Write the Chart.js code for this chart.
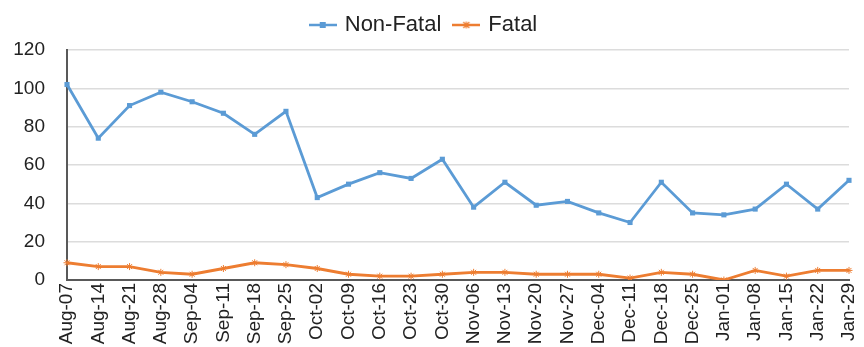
<!DOCTYPE html>
<html>
<head>
<meta charset="utf-8">
<script src="https://cdn.jsdelivr.net/npm/chart.js@4/dist/chart.umd.min.js"></script>
<style>
  html, body { margin: 0; padding: 0; background: #ffffff; }
  #wrap { width: 864px; height: 347px; }
</style>
</head>
<body>
<div id="wrap"><canvas id="chart" width="864" height="347"></canvas></div>
<script>
// Weekly counts
const weeks = ["Aug-07","Aug-14","Aug-21","Aug-28","Sep-04","Sep-11","Sep-18","Sep-25",
  "Oct-02","Oct-09","Oct-16","Oct-23","Oct-30","Nov-06","Nov-13","Nov-20","Nov-27",
  "Dec-04","Dec-11","Dec-18","Dec-25","Jan-01","Jan-08","Jan-15","Jan-22","Jan-29"];
const nonFatal = [102,74,91,98,93,87,76,88,43,50,56,53,63,38,51,39,41,35,30,51,35,34,37,50,37,52];
const fatal    = [9,7,7,4,3,6,9,8,6,3,2,2,3,4,4,3,3,3,1,4,3,0,5,2,5,5];
const yTicks   = [0,20,40,60,80,100,120];

const BLUE = '#5B9BD5';
const ORANGE = '#ED7D31';
const FONT = 'Liberation Sans, Arial, sans-serif';

// Legend swatch: short line with the series marker in the middle
function swatch(color, kind) {
  const c = document.createElement('canvas');
  c.width = 28; c.height = 10;
  const g = c.getContext('2d');
  g.strokeStyle = color; g.fillStyle = color; g.lineWidth = 2.5;
  g.beginPath(); g.moveTo(0, 5); g.lineTo(28, 5); g.stroke();
  if (kind === 'square') {
    g.fillRect(11, 2, 6, 6);
  } else {
    g.lineWidth = 1.2;
    g.beginPath();
    g.moveTo(11, 2); g.lineTo(17, 8);
    g.moveTo(17, 2); g.lineTo(11, 8);
    g.moveTo(14, 1.5); g.lineTo(14, 8.5);
    g.stroke();
  }
  return c;
}

// Extra space below the legend row
const legendGap = {
  id: 'legendGap',
  beforeInit(chart) {
    const fit = chart.legend.fit;
    chart.legend.fit = function () {
      fit.call(this);
      this.height += 4;
    };
  }
};

new Chart(document.getElementById('chart'), {
  type: 'line',
  data: {
    labels: weeks,
    datasets: [
      {
        label: 'Non-Fatal',
        data: nonFatal,
        borderColor: BLUE,
        backgroundColor: BLUE,
        borderWidth: 2.8,
        pointStyle: 'rect',
        pointRadius: 3.6,
        pointBorderWidth: 0,
        tension: 0
      },
      {
        label: 'Fatal',
        data: fatal,
        borderColor: ORANGE,
        backgroundColor: ORANGE,
        borderWidth: 2.8,
        pointStyle: 'star',
        pointRadius: 3.5,
        pointBorderWidth: 1,
        tension: 0
      }
    ]
  },
  options: {
    responsive: false,
    animation: false,
    layout: { padding: { left: 0, right: 15, top: 0, bottom: 0 } },
    plugins: {
      tooltip: { enabled: false },
      legend: {
        position: 'top',
        labels: {
          color: '#222222',
          font: { family: FONT, size: 22 },
          usePointStyle: true,
          padding: 14,
          generateLabels: (chart) => chart.data.datasets.map((ds, i) => ({
            text: ds.label,
            fillStyle: ds.borderColor,
            strokeStyle: ds.borderColor,
            fontColor: '#222222',
            lineWidth: 0,
            pointStyle: swatch(ds.borderColor, i === 0 ? 'square' : 'star'),
            datasetIndex: i,
            hidden: false
          }))
        }
      }
    },
    scales: {
      x: {
        offset: false,
        grid: { display: false, drawTicks: false },
        border: { display: true, color: '#595959', width: 2 },
        afterFit: (axis) => {
          axis.height = 67;
          axis.paddingLeft = 0;
          axis.paddingRight = 0;
        },
        ticks: {
          autoSkip: false,
          minRotation: 90,
          maxRotation: 90,
          padding: 3,
          color: '#222222',
          font: { family: FONT, size: 19 }
        }
      },
      y: {
        min: 0,
        max: 120,
        afterBuildTicks: (axis) => { axis.ticks = yTicks.map(v => ({ value: v })); },
        afterFit: (axis) => { axis.width = 67; },
        grid: { color: '#dcdcdc', lineWidth: 1.5, drawTicks: false },
        border: { display: true, color: '#595959', width: 2 },
        ticks: {
          padding: 22,
          color: '#222222',
          font: { family: FONT, size: 19 }
        }
      }
    }
  },
  plugins: [legendGap]
});
</script>
</body>
</html>
